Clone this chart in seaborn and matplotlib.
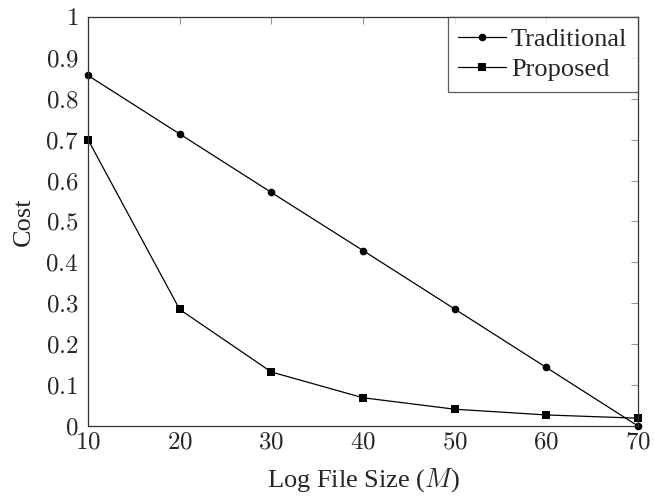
import matplotlib
matplotlib.use("Agg")
import matplotlib.pyplot as plt
import seaborn as sns
import pandas as pd
from matplotlib.ticker import FuncFormatter

sizes = [10, 20, 30, 40, 50, 60, 70]
traditional = [0.857, 0.714, 0.571, 0.429, 0.286, 0.143, 0.0]
proposed = [0.70, 0.285, 0.132, 0.069, 0.041, 0.027, 0.019]
series_names = ["Traditional", "Proposed"]

df = pd.DataFrame({
    "size": sizes * 2,
    "cost": traditional + proposed,
    "series": [series_names[0]] * len(sizes) + [series_names[1]] * len(sizes),
})

sns.set_theme(style="white")
plt.rcParams["font.family"] = ["Liberation Serif", "DejaVu Serif"]
plt.rcParams["mathtext.fontset"] = "cm"

fig = plt.figure(figsize=(6.54, 4.97), dpi=100)
ax = fig.add_axes([0.1346, 0.1429, 0.9755 - 0.1346, 0.9658 - 0.1429])

sns.lineplot(data=df, x="size", y="cost", hue="series", style="series",
             palette={"Traditional": "black", "Proposed": "black"},
             markers={"Traditional": "o", "Proposed": "s"},
             dashes=False, markersize=5.5, linewidth=0.9, ax=ax,
             markeredgewidth=0, clip_on=False)

ax.set_xlim(10, 70)
ax.set_ylim(0, 1)
ax.set_xticks(sizes)
ax.set_yticks([i / 10 for i in range(11)])

def fmt(v, pos):
    s = f"{v:g}"
    return f"${s}$"

ax.xaxis.set_major_formatter(FuncFormatter(fmt))
ax.yaxis.set_major_formatter(FuncFormatter(fmt))
ax.tick_params(direction="in", length=5, width=0.8, color="#999999",
               labelsize=18, top=True, right=True)
ax.tick_params(axis="y", pad=7)
ax.tick_params(axis="x", pad=4)
for sp in ax.spines.values():
    sp.set_color("#333333")
    sp.set_linewidth(0.9)

ax.set_xlabel("Log File Size ($M$)", fontsize=19, labelpad=9)
ax.set_ylabel("Cost", fontsize=19, labelpad=7)

handles, labels = ax.get_legend_handles_labels()
leg = ax.legend(handles=handles, labels=labels, loc="upper right",
                fontsize=19, frameon=True, fancybox=False, edgecolor="#333333",
                handlelength=1.8, borderaxespad=0.0, borderpad=0.4,
                labelspacing=0.25, handletextpad=0.2)
leg.get_frame().set_linewidth(0.9)

fig.savefig("out.png", dpi=100)
